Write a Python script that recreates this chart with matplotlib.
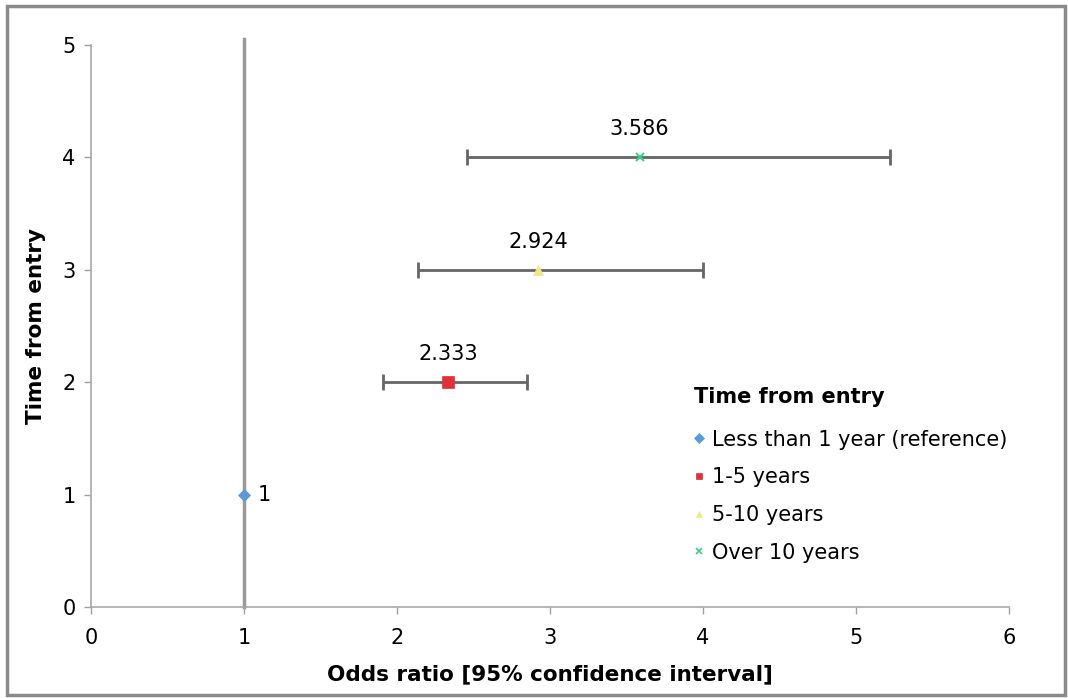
import matplotlib.pyplot as plt
from matplotlib.lines import Line2D
from matplotlib.patches import Rectangle

# data
groups = ['Less than 1 year (reference)', '1-5 years', '5-10 years', 'Over 10 years']
time_pos = [1, 2, 3, 4]
odds = [1.0, 2.333, 2.924, 3.586]
ci_low = [None, 1.91, 2.14, 2.46]
ci_high = [None, 2.85, 4.0, 5.22]
labels = ['1', '2.333', '2.924', '3.586']

colors = ['#5B9BD5', '#E0303A', '#F2E68A', '#3CCB8C']
markers = ['D', 's', '^', 'x']
sizes = [6, 8, 7, 6]

plt.rcParams['font.family'] = ['DejaVu Sans']
fig = plt.figure(figsize=(10.68, 6.98), dpi=100)
ax = fig.add_axes([0.0852, 0.1304, 0.8596, 0.8051])

# outer frame
fig.patches.append(Rectangle((0.007, 0.005), 0.99, 0.987, transform=fig.transFigure,
                             fill=False, edgecolor='#8a8a8a', linewidth=2.5))

# reference line at OR = 1
ax.plot([1, 1], [0, 5.05], color='#999999', linewidth=2.5, zorder=1, clip_on=False)

for i in range(len(groups)):
    if ci_low[i] is not None:
        ax.errorbar(odds[i], time_pos[i],
                    xerr=[[odds[i] - ci_low[i]], [ci_high[i] - odds[i]]],
                    fmt='none', ecolor='#666666', elinewidth=2, capsize=6, capthick=2, zorder=2)
    ax.plot(odds[i], time_pos[i], marker=markers[i], color=colors[i], markersize=sizes[i],
            linestyle='none', markeredgewidth=1.5 if markers[i] == 'x' else 0.5, zorder=3)
    if i == 0:
        ax.annotate(labels[i], (odds[i], time_pos[i]), xytext=(10, 0), textcoords='offset points',
                    ha='left', va='center', fontsize=15)
    else:
        ax.annotate(labels[i], (odds[i], time_pos[i]), xytext=(0, 13), textcoords='offset points',
                    ha='center', va='bottom', fontsize=15)

ax.set_xlim(0, 6)
ax.set_ylim(0, 5)
ax.set_xticks(range(0, 7))
ax.set_yticks(range(0, 6))
ax.tick_params(labelsize=15, color='#a0a0a0', length=5, width=1)
ax.tick_params(axis='x', pad=10)
ax.tick_params(axis='y', pad=6)
for s in ['top', 'right']:
    ax.spines[s].set_visible(False)
for s in ['left', 'bottom']:
    ax.spines[s].set_color('#a8a8a8')
    ax.spines[s].set_linewidth(1.2)

ax.set_xlabel('Odds ratio [95% confidence interval]', fontsize=15.5, fontweight='bold', labelpad=12)
ax.set_ylabel('Time from entry', fontsize=15.5, fontweight='bold', labelpad=12)

handles = [Line2D([], [], marker=markers[i], color=colors[i], linestyle='none',
                  markersize=5, markeredgewidth=1.2 if markers[i] == 'x' else 0.5)
           for i in range(len(groups))]
leg = ax.legend(handles, groups, title='Time from entry', loc='upper left',
                bbox_to_anchor=(0.632, 0.472), bbox_transform=fig.transFigure,
                frameon=False, fontsize=15, title_fontproperties={'weight': 'bold', 'size': 15},
                handlelength=0.5, handletextpad=0.4, labelspacing=0.85, alignment='left')
leg._legend_box.sep = 16

fig.savefig('out.png', dpi=100)
